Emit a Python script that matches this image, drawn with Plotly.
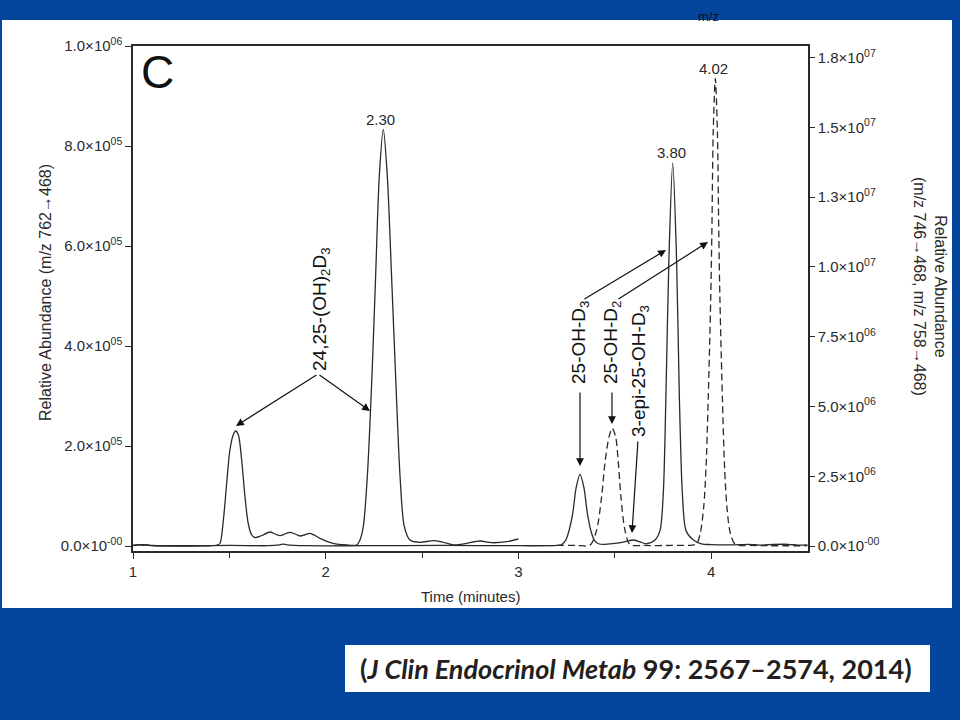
import plotly.graph_objects as go

# ---- data ----
# m/z 762->468 (left axis), solid, 1.0-3.0 min
t_a = [1.00, 1.03, 1.05, 1.07, 1.10, 1.20, 1.30, 1.40, 1.434, 1.451, 1.469, 1.486, 1.503, 1.520,
       1.533, 1.547, 1.564, 1.581, 1.598, 1.616, 1.633, 1.668, 1.711, 1.737, 1.763, 1.789, 1.815,
       1.841, 1.867, 1.893, 1.919, 1.945, 1.970, 2.038, 2.109, 2.161, 2.178, 2.195, 2.216, 2.240,
       2.259, 2.278, 2.299, 2.320, 2.342, 2.363, 2.386, 2.408, 2.437, 2.489, 2.558, 2.610, 2.671,
       2.732, 2.801, 2.861, 2.939, 3.000]
v_a = [1000, 2500, 1500, 2500, 1000, 500, 500, 500, 1500, 5000, 52000, 125000, 192000, 222000,
       230000, 222000, 172000, 99000, 45000, 22000, 17000, 21000, 28000, 24000, 20600, 24000, 27300,
       24000, 20000, 22500, 25300, 21000, 15300, 5300, 2000, 2000, 12000, 38600, 138600, 338600,
       538600, 738600, 833000, 738600, 538600, 338600, 138600, 38600, 12000, 7400, 10600, 7400, 2000,
       5400, 10000, 6600, 8600, 14000]

# m/z 746->468 (right axis), solid: 25-OH-D3, 3-epi-25-OH-D3
t_b = [1.00, 1.04, 1.07, 1.10, 1.30, 1.50, 1.70, 1.76, 1.78, 1.80, 1.90, 2.20, 2.60, 3.00, 3.20,
       3.225, 3.245, 3.259, 3.282, 3.300, 3.320, 3.340, 3.358, 3.380, 3.395, 3.415, 3.450, 3.510,
       3.550, 3.596, 3.630, 3.666, 3.709, 3.735, 3.752, 3.766, 3.781, 3.801, 3.821, 3.835, 3.851,
       3.870, 3.908, 3.950, 4.000, 4.100, 4.200, 4.250, 4.300, 4.400, 4.450, 4.500]
v_b = [0.02e6, 0.05e6, 0.03e6, 0.01e6, 0.0, 0.02e6, 0.01e6, 0.04e6, 0.07e6, 0.04e6, 0.01e6,
       0.01e6, 0.02e6, 0.01e6, 0.02e6, 0.05e6, 0.20e6, 0.455e6, 1.17e6, 2.10e6, 2.57e6, 2.10e6,
       1.17e6, 0.455e6, 0.20e6, 0.08e6, 0.06e6, 0.10e6, 0.15e6, 0.215e6, 0.15e6, 0.08e6, 0.215e6,
       0.55e6, 1.89e6, 5.47e6, 10.25e6, 13.72e6, 10.25e6, 5.47e6, 1.89e6, 0.55e6, 0.215e6, 0.08e6,
       0.05e6, 0.04e6, 0.06e6, 0.03e6, 0.05e6, 0.06e6, 0.03e6, 0.04e6]

# m/z 758->468 (right axis), dashed: 25-OH-D2
t_c = [3.20, 3.30, 3.372, 3.406, 3.432, 3.449, 3.470, 3.487, 3.505, 3.519, 3.532, 3.553, 3.579,
       3.650, 3.800, 3.900, 3.925, 3.944, 3.962, 3.974, 3.985, 3.998, 4.004, 4.011, 4.022, 4.033,
       4.040, 4.046, 4.059, 4.070, 4.082, 4.100, 4.127, 4.200, 4.300, 4.500]
v_c = [0.02e6, 0.02e6, 0.03e6, 0.57e6, 1.77e6, 2.96e6, 3.90e6, 4.22e6, 3.90e6, 2.96e6, 1.77e6,
       0.57e6, 0.05e6, 0.02e6, 0.02e6, 0.03e6, 0.08e6, 0.455e6, 1.41e6, 2.84e6, 5.23e6, 8.82e6,
       11.2e6, 14.8e6, 16.75e6, 14.8e6, 11.2e6, 8.82e6, 5.23e6, 2.84e6, 1.41e6, 0.455e6, 0.05e6,
       0.02e6, 0.01e6, 0.01e6]

x_ticks = [1, 2, 3, 4]
left_tickvals = [0, 2e5, 4e5, 6e5, 8e5, 1e6]
left_ticktext = ["0.0×10<sup>-00</sup>", "2.0×10<sup>05</sup>", "4.0×10<sup>05</sup>",
                 "6.0×10<sup>05</sup>", "8.0×10<sup>05</sup>", "1.0×10<sup>06</sup>"]
right_tickvals = [0, 2.5e6, 5e6, 7.5e6, 1e7, 1.25e7, 1.5e7, 1.75e7]
right_ticktext = ["0.0×10<sup>-00</sup>", "2.5×10<sup>06</sup>", "5.0×10<sup>06</sup>",
                  "7.5×10<sup>06</sup>", "1.0×10<sup>07</sup>", "1.3×10<sup>07</sup>",
                  "1.5×10<sup>07</sup>", "1.8×10<sup>07</sup>"]
peak_labels = ["2.30", "3.80", "4.02"]

BLUE = "#04459e"
INK = "#2a2a2a"
FONT = "Liberation Sans, Arial, sans-serif"

fig = go.Figure()
fig.add_trace(go.Scatter(x=t_a, y=v_a, mode="lines", yaxis="y",
                         line=dict(color=INK, width=1.3, shape="spline", smoothing=0.8),
                         hoverinfo="skip", showlegend=False))
fig.add_trace(go.Scatter(x=t_b, y=v_b, mode="lines", yaxis="y2",
                         line=dict(color=INK, width=1.3, shape="spline", smoothing=0.8),
                         hoverinfo="skip", showlegend=False))
fig.add_trace(go.Scatter(x=t_c, y=v_c, mode="lines", yaxis="y2",
                         line=dict(color=INK, width=1.3, shape="spline", smoothing=0.8, dash="7px,4px"),
                         hoverinfo="skip", showlegend=False))

L, R, T, B = 133, 152, 46, 169
W, H = 960, 720
PW, PH = W - L - R, H - T - B

def px(xp):
    return (xp - L) / PW

def py(yp):
    return (H - B - yp) / PH

shapes = [
    dict(type="rect", xref="paper", yref="paper", x0=px(2), x1=px(952), y0=py(608), y1=py(20),
         fillcolor="white", line=dict(width=0), layer="below"),
    dict(type="rect", xref="paper", yref="paper", x0=px(345), x1=px(930), y0=py(692), y1=py(645),
         fillcolor="white", line=dict(width=0), layer="below"),
]

def txt(text, x, y, size, color=INK, xref="paper", yref="paper", angle=0, xa="center", ya="middle",
        family=FONT):
    return dict(text=text, x=x, y=y, xref=xref, yref=yref, textangle=angle, showarrow=False,
                xanchor=xa, yanchor=ya, font=dict(size=size, color=color, family=family))

ann = []
ann.append(txt("C", px(139), py(72), 46, color="#111", xa="left"))
ann.append(txt("Relative Abundance (m/z 762→468)", px(45), py(293), 16, angle=-90))
ann.append(txt("Relative Abundance<br>(m/z 746→468, m/z 758→468)", px(930), py(287), 16, angle=90))
ann.append(txt("Time (minutes)", px(470), py(596), 15))
ann.append(txt("m/z", px(708), py(17), 13, color="#111"))
# peak labels
ann.append(txt(peak_labels[0], 2.282, 854000, 15, xref="x", yref="y"))
ann.append(txt(peak_labels[1], 3.797, 14.09e6, 15, xref="x", yref="y2"))
ann.append(txt(peak_labels[2], 4.010, 17.13e6, 15, xref="x", yref="y2"))
# compound labels
ann.append(txt("24,25-(OH)<sub>2</sub>D<sub>3</sub>", 1.9756, 474000, 19, color="#111",
               xref="x", yref="y", angle=-90))
ann.append(txt("25-OH-D<sub>3</sub>", 3.3197, 408000, 19, color="#111", xref="x", yref="y", angle=-90))
ann.append(txt("25-OH-D<sub>2</sub>", 3.4857, 408000, 19, color="#111", xref="x", yref="y", angle=-90))
ann.append(txt("3-epi-25-OH-D<sub>3</sub>", 3.631, 350000, 19, color="#111", xref="x", yref="y", angle=-90))
# arrows (head x,y ; tail ax,ay)
arrows = [
    (1.5345, 240000, 1.960, 344000),
    (2.2299, 270000, 1.960, 344000),
    (3.3197, 160000, 3.3197, 310000),
    (3.7660, 592000, 3.3353, 492000),
    (3.4857, 244000, 3.4857, 310000),
    (3.9839, 608000, 3.5117, 492000),
    (3.5895, 26000, 3.6207, 212000),
]
for hx, hy, tx, ty in arrows:
    ann.append(dict(text="", x=hx, y=hy, ax=tx, ay=ty, xref="x", yref="y", axref="x", ayref="y",
                    showarrow=True, arrowhead=2, arrowsize=1.3, arrowwidth=1.2, arrowcolor="#111",
                    standoff=0, startstandoff=0))
# citation
ann.append(txt("<b>(<i>J Clin Endocrinol Metab</i> 99: 2567–2574, 2014)</b>", px(636), py(668), 27,
               color="#231f20", family="Lato, Open Sans, sans-serif"))

axis_font = dict(size=15, color=INK, family=FONT)
fig.update_layout(
    width=W, height=H,
    margin=dict(l=L, r=R, t=T, b=B, pad=0),
    paper_bgcolor=BLUE, plot_bgcolor="white",
    showlegend=False,
    shapes=shapes, annotations=ann,
    xaxis=dict(range=[1, 4.503], tickvals=x_ticks, ticktext=[str(v) for v in x_ticks],
               ticks="outside", ticklen=6, tickwidth=1.3, tickcolor=INK,
               minor=dict(tickvals=[1.5, 2.5, 3.5], ticks="outside", ticklen=5, tickwidth=1.2, tickcolor=INK),
               showline=True, linecolor=INK, linewidth=1.5, mirror=True,
               showgrid=False, zeroline=False, tickfont=axis_font),
    yaxis=dict(range=[-1e4, 1e6], tickvals=left_tickvals, ticktext=left_ticktext,
               ticks="outside", ticklen=6, tickwidth=1.3, tickcolor=INK,
               showline=True, linecolor=INK, linewidth=1.5,
               showgrid=False, zeroline=False, tickfont=axis_font),
    yaxis2=dict(range=[-1.792e5, 1.792e7], overlaying="y", side="right", anchor="x",
                tickvals=right_tickvals, ticktext=right_ticktext,
                ticks="outside", ticklen=5, tickwidth=1.3, tickcolor=INK,
                showline=True, linecolor=INK, linewidth=1.5,
                showgrid=False, zeroline=False, tickfont=axis_font),
)

fig.write_html("out.html", config={"displayModeBar": False},
               post_script="document.body.style.margin='0';")
